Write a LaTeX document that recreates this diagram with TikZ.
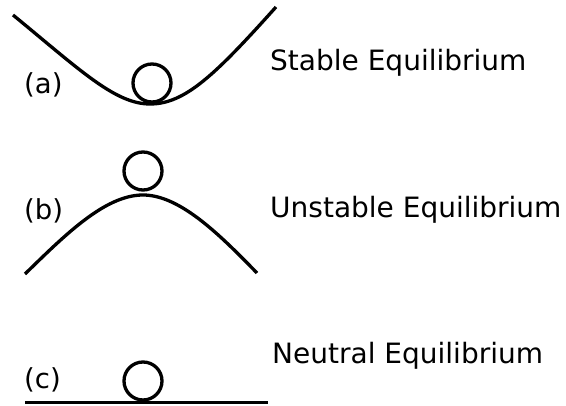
\documentclass[tikz,border=0pt]{standalone}
\usepackage{fontspec}
\setmainfont{DejaVu Sans}
\begin{document}
\begin{tikzpicture}[x=1pt,y=-1pt,
  curve/.style={line width=3.3pt},
  ball/.style={circle,draw,line width=3.3pt,minimum size=38pt,inner sep=0pt},
  title/.style={anchor=base west,inner sep=0pt,font=\fontsize{28}{32}\selectfont},
  tag/.style={anchor=base west,inner sep=0pt,font=\fontsize{27.5}{31}\selectfont}]
\useasboundingbox[fill=white] (0,0) rectangle (566,406);
% (a) stable
\coordinate (a1) at (13,15);
\coordinate (a2) at (150,104);
\coordinate (a3) at (276,7);
\draw[curve] (a1) .. controls (80,70) and (115,104) .. (a2)
  .. controls (185,104) and (215,75) .. (a3);
\node[ball] (ballA) at (152,83) {};
\node[tag] (labA) at (24,94) {(a)};
\node[title] (txtA) at (270,71) {Stable Equilibrium};
% (b) unstable
\coordinate (b1) at (25,274);
\coordinate (b2) at (143,195);
\coordinate (b3) at (257,273);
\draw[curve] (b1) .. controls (65,235) and (105,195) .. (b2)
  .. controls (180,195) and (220,235) .. (b3);
\node[ball] (ballB) at (143,171) {};
\node[tag] (labB) at (24,220) {(b)};
\node[title] (txtB) at (270,218) {Unstable Equilibrium};
% (c) neutral
\coordinate (c1) at (25,402.5);
\coordinate (c2) at (268,402.5);
\draw[curve] (c1) -- (c2);
\node[ball] (ballC) at (143,381) {};
\node[tag] (labC) at (24,389) {(c)};
\node[title] (txtC) at (272,364) {Neutral Equilibrium};
\end{tikzpicture}
\end{document}
